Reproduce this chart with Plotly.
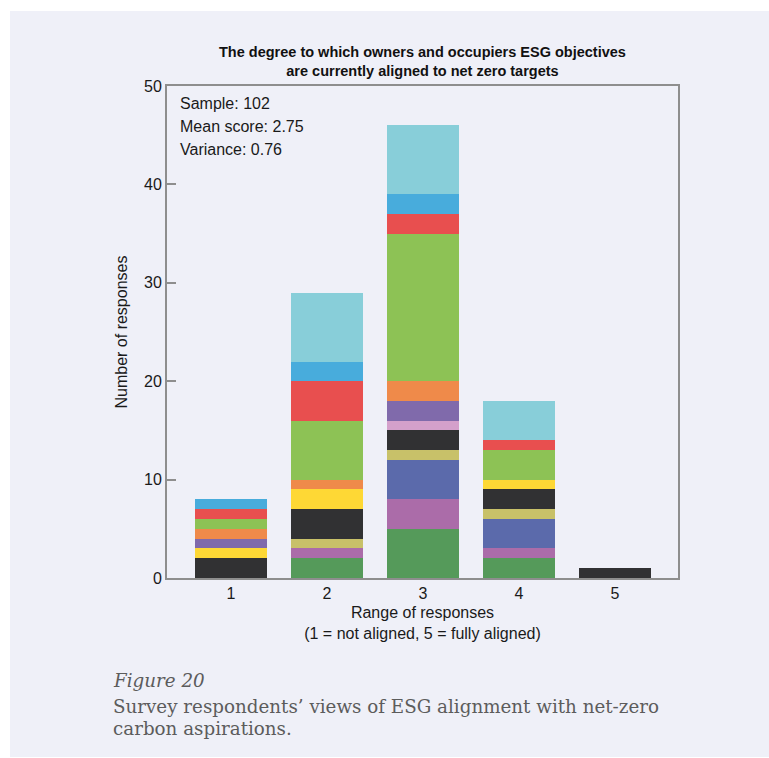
import plotly.graph_objects as go

# Response scale (1 = not aligned, 5 = fully aligned)
responses = [1, 2, 3, 4, 5]
tick_labels = ["1", "2", "3", "4", "5"]

# Stacked segments, bottom to top, count of responses per score
seg_green = [0, 2, 5, 2, 0]
seg_mauve = [0, 1, 3, 1, 0]
seg_slate = [0, 0, 4, 3, 0]
seg_khaki = [0, 1, 1, 1, 0]
seg_black = [2, 3, 2, 2, 1]
seg_pink = [0, 0, 1, 0, 0]
seg_yellow = [1, 2, 0, 1, 0]
seg_purple = [1, 0, 2, 0, 0]
seg_orange = [1, 1, 2, 0, 0]
seg_lime = [1, 6, 15, 3, 0]
seg_red = [1, 4, 2, 1, 0]
seg_sky = [1, 2, 2, 0, 0]
seg_cyan = [0, 7, 7, 4, 0]

segments = [
    (seg_green, "#559a5a"),
    (seg_mauve, "#ab6ca9"),
    (seg_slate, "#5b6aab"),
    (seg_khaki, "#c8c169"),
    (seg_black, "#313133"),
    (seg_pink, "#d4a0cb"),
    (seg_yellow, "#fed835"),
    (seg_purple, "#806aab"),
    (seg_orange, "#ef8a4a"),
    (seg_lime, "#8dc255"),
    (seg_red, "#e84f4f"),
    (seg_sky, "#48acdc"),
    (seg_cyan, "#88ced9"),
]

# Summary statistics of the responses
totals = [sum(s[0][i] for s in segments) for i in range(len(responses))]
n = sum(totals)
mean = sum(r * t for r, t in zip(responses, totals)) / n
var = sum(t * (r - mean) ** 2 for r, t in zip(responses, totals)) / (n - 1)

BG = "#eff0f8"
AX = "#8e8e8e"
SANS = "Liberation Sans, Arial, sans-serif"
SERIF = "DejaVu Serif, Georgia, serif"

fig = go.Figure()
for vals, col in segments:
    fig.add_trace(go.Bar(
        x=responses, y=vals, marker=dict(color=col, line=dict(width=0)),
        width=0.75, showlegend=False, hoverinfo="skip",
    ))

W, H = 769, 758
L, R, T, B = 167, 91, 86, 180
pw, ph = W - L - R, H - T - B


def px(x):
    return (x - L) / pw


def py(y):
    return (H - B - y) / ph


fig.update_layout(
    width=W, height=H, barmode="stack",
    margin=dict(l=L, r=R, t=T, b=B),
    paper_bgcolor="white", plot_bgcolor=BG,
    font=dict(family=SANS, size=16, color="#1a1a1a"),
    xaxis=dict(
        range=[0.333, 5.656], tickvals=responses, ticktext=tick_labels,
        showline=True, linecolor=AX, linewidth=2, mirror=True,
        ticks="", showgrid=False, zeroline=False, fixedrange=True,
        title=dict(text="Range of responses<br>(1 = not aligned, 5 = fully aligned)",
                   font=dict(size=16), standoff=6),
    ),
    yaxis=dict(
        range=[0, 50], tickvals=[0, 10, 20, 30, 40, 50],
        showline=True, linecolor=AX, linewidth=2, mirror=True,
        ticks="inside", ticklen=9, tickwidth=2, tickcolor=AX,
        showgrid=False, zeroline=False, fixedrange=True,
        title=dict(text="Number of responses", font=dict(size=16), standoff=12),
    ),
    shapes=[dict(
        type="rect", xref="paper", yref="paper", layer="below",
        x0=px(10), x1=px(W + 5), y0=py(757), y1=py(11),
        fillcolor=BG, line=dict(width=0),
    )],
)

ann = []
ann.append(dict(
    text="<b>The degree to which owners and occupiers ESG objectives<br>are currently aligned to net zero targets</b>",
    x=px(422), y=py(62), xref="paper", yref="paper", showarrow=False,
    xanchor="center", yanchor="middle", font=dict(size=14.5, color="#111111"),
))
stats = [f"Sample: {n}", f"Mean score: {mean:.2f}", f"Variance: {var:.2f}"]
for i, s in enumerate(stats):
    ann.append(dict(
        text=s, x=px(178), y=py(103 + 23 * i), xref="paper", yref="paper",
        showarrow=False, xanchor="left", yanchor="middle",
        font=dict(size=16, color="#1a1a1a"),
    ))
caption = [
    ("<i>Figure 20</i>", 680),
    ("Survey respondents’ views of ESG alignment with net-zero", 706),
    ("carbon aspirations.", 728),
]
for txt, yy in caption:
    ann.append(dict(
        text=txt, x=px(111), y=py(yy), xref="paper", yref="paper",
        showarrow=False, xanchor="left", yanchor="middle",
        font=dict(family=SERIF, size=18.3, color="#5c5c5c"),
    ))
fig.update_layout(annotations=ann)

fig.write_html("out.html")
